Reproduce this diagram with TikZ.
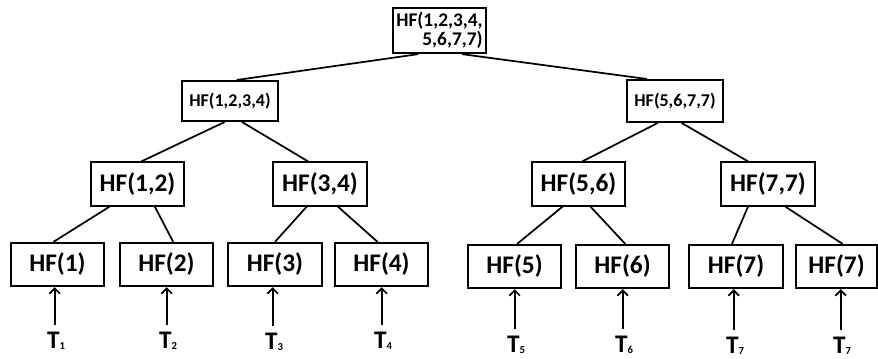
\documentclass[tikz,border=0pt]{standalone}
\usepackage{fontspec}
\setmainfont{Carlito}
\usepackage{tikz}
\usetikzlibrary{arrows.meta}
\newcommand{\tsub}[1]{\raisebox{-1pt}{\fontsize{8}{8}\selectfont #1}}

\begin{document}
\begin{tikzpicture}[x=0.75pt,y=-0.75pt,
    hfbox/.style={draw,line width=1.5pt,inner sep=0pt,font=\bfseries\fontsize{19}{20}\selectfont,
      minimum width=70pt,minimum height=32.5pt},
    topbox/.style={hfbox,font=\bfseries\fontsize{13.5}{14}\selectfont,minimum width=72pt,minimum height=30pt},
    tlabel/.style={font=\bfseries\fontsize{19}{20}\selectfont,inner sep=1pt},
    edge/.style={line width=1.3pt},
    uparrow/.style={line width=1.3pt,-{Straight Barb[length=4pt,width=8pt]},shorten <=4pt}]
  \useasboundingbox (0,0) rectangle (878,358);

  % top of the tree
  \node[topbox,font=\bfseries\fontsize{14.5}{14}\selectfont,minimum width=69.5pt,minimum height=34pt,align=right] (root) at (439.5,30.5) {HF(1,2,3,4,\\5,6,7,7)};
  \node[topbox] (left) at (230,101) {HF(1,2,3,4)};
  \node[topbox,minimum height=31.5pt] (right) at (675,101) {HF(5,6,7,7)};

  % pairs
  \node[hfbox] (p12) at (137.5,184) {HF(1,2)};
  \node[hfbox] (p34) at (320,184) {HF(3,4)};
  \node[hfbox] (p56) at (578.5,184) {HF(5,6)};
  \node[hfbox] (p77) at (768,184) {HF(7,7)};

  % leaves
  \node[hfbox] (h1) at (57.5,264.5) {HF(1)};
  \node[hfbox] (h2) at (166.5,264.5) {HF(2)};
  \node[hfbox] (h3) at (275,264.5) {HF(3)};
  \node[hfbox] (h4) at (381.5,264.5) {HF(4)};
  \node[hfbox] (h5) at (514.5,266.5) {HF(5)};
  \node[hfbox] (h6) at (622.5,266.5) {HF(6)};
  \node[hfbox] (h7) at (736,266.5) {HF(7)};
  \node[hfbox,minimum width=61pt] (h8) at (836.5,266.5) {HF(7)};

  % inputs
  \node[tlabel] (t1) at (56,341) {T\tsub{1}};
  \node[tlabel] (t2) at (168,341) {T\tsub{2}};
  \node[tlabel] (t3) at (274,342) {T\tsub{3}};
  \node[tlabel] (t4) at (383,341) {T\tsub{4}};
  \node[tlabel] (t5) at (516,345) {T\tsub{5}};
  \node[tlabel] (t6) at (624,345) {T\tsub{6}};
  \node[tlabel] (t7) at (735,346) {T\tsub{7}};
  \node[tlabel] (t8) at (842,346) {T\tsub{7}};

  \draw[edge] ([xshift=-16pt]root.south) -- ([xshift=5pt]left.north);
  \draw[edge] ([xshift=17pt]root.south) -- ([xshift=-21pt]right.north);
  \draw[edge] ([xshift=-4pt]left.south) -- ([xshift=3pt]p12.north);
  \draw[edge] ([xshift=9pt]left.south) -- ([xshift=-9pt]p34.north);
  \draw[edge] ([xshift=-13pt]right.south) -- ([xshift=3pt]p56.north);
  \draw[edge] ([xshift=5pt]right.south) -- ([xshift=-15pt]p77.north);
  \draw[edge] ([xshift=-21pt]p12.south) -- ([xshift=-3pt]h1.north);
  \draw[edge] ([xshift=13pt]p12.south) -- ([xshift=5pt]h2.north);
  \draw[edge] ([xshift=-10pt]p34.south) -- (h3.north);
  \draw[edge] ([xshift=13.5pt]p34.south) -- ([xshift=-3pt]h4.north);
  \draw[edge] ([xshift=-12pt]p56.south) -- ([xshift=2pt]h5.north);
  \draw[edge] ([xshift=9pt]p56.south) -- ([xshift=2pt]h6.north);
  \draw[edge] ([xshift=-15pt]p77.south) -- ([xshift=-3pt]h7.north);
  \draw[edge] ([xshift=13pt]p77.south) -- ([xshift=4.5pt]h8.north);

  \foreach \i in {1,...,8}
    \draw[uparrow] ([xshift=-1pt]t\i.north) -- ([xshift=-1pt]t\i.north |- h\i.south);
\end{tikzpicture}
\end{document}
